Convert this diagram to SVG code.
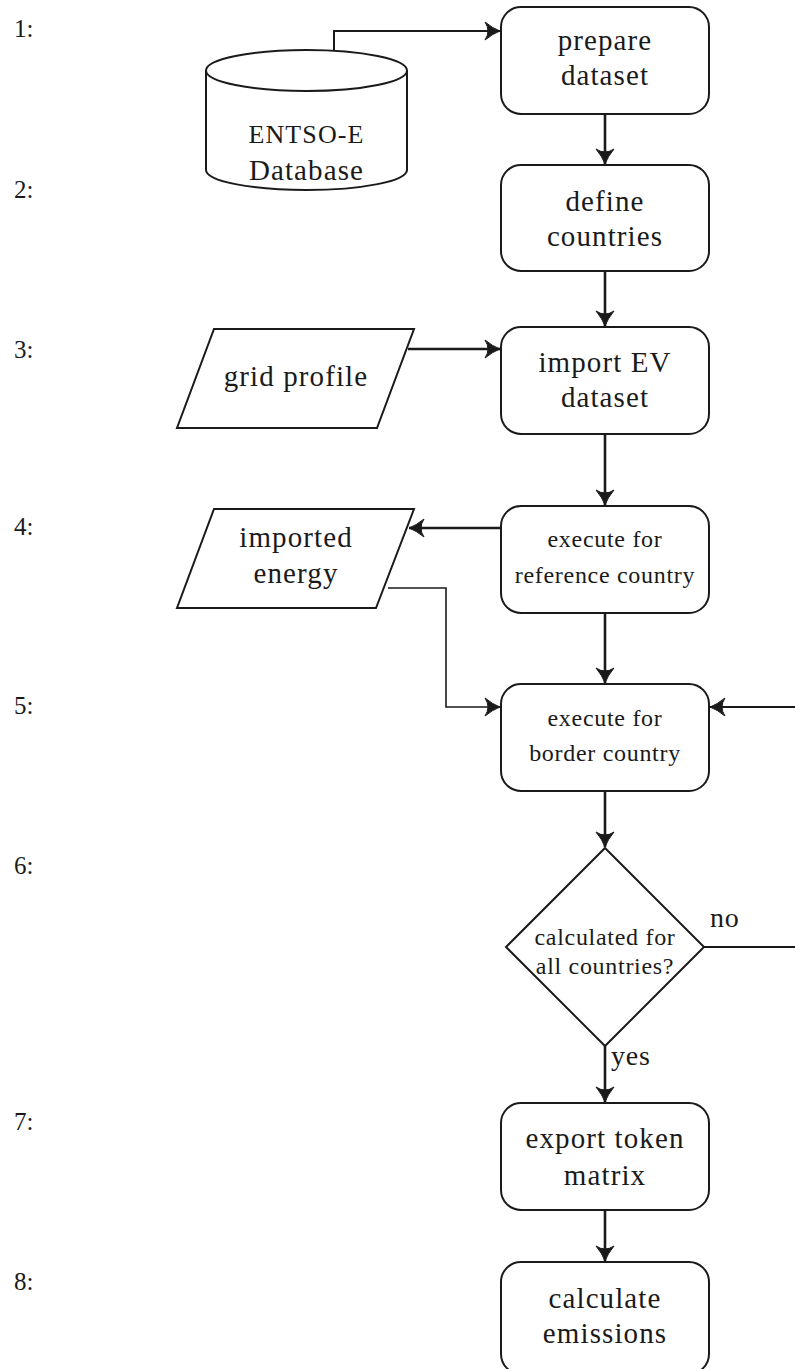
<svg xmlns="http://www.w3.org/2000/svg" width="795" height="1369" viewBox="0 0 795 1369">
<style>
.shape{fill:#fff;stroke:#1a1a1a;stroke-width:2}
.t{font-family:"Liberation Serif",serif;font-size:29px;letter-spacing:1.1px;fill:#1a1a1a;text-anchor:middle}
.s{font-family:"Liberation Serif",serif;font-size:24px;letter-spacing:0.7px;fill:#1a1a1a;text-anchor:middle}
.n{font-family:"Liberation Serif",serif;font-size:25px;fill:#1a1a1a}
.l{font-family:"Liberation Serif",serif;font-size:28px;letter-spacing:0.8px;fill:#1a1a1a}
.c{fill:none;stroke:#1a1a1a;stroke-width:2.6}
.c2{fill:none;stroke:#1a1a1a;stroke-width:1.6}
</style>
<defs>
<marker id="ah" markerUnits="userSpaceOnUse" markerWidth="22" markerHeight="22" viewBox="-17 -11 18 22" refX="0" refY="0" orient="auto">
<path d="M0,0 Q-7,-2.5 -15,-9 Q-9,0 -15,9 Q-7,2.5 0,0 Z" fill="#1a1a1a" stroke="#1a1a1a" stroke-width="1" stroke-linejoin="round"/>
</marker>
</defs>
<g id="row-numbers">
<text class="n" x="14" y="37">1:</text>
<text class="n" x="14" y="198">2:</text>
<text class="n" x="14" y="358">3:</text>
<text class="n" x="14" y="535">4:</text>
<text class="n" x="14" y="714">5:</text>
<text class="n" x="14" y="874">6:</text>
<text class="n" x="14" y="1130">7:</text>
<text class="n" x="14" y="1290">8:</text>
</g>
<g id="connectors">
<path class="c2" d="M334,50 V31 H500" marker-end="url(#ah)" style="stroke-width:2"/>
<path class="c" d="M605,114 V164" marker-end="url(#ah)"/>
<path class="c" d="M605,271 V326" marker-end="url(#ah)"/>
<path class="c" d="M408,349 H500" marker-end="url(#ah)"/>
<path class="c" d="M605,434 V505" marker-end="url(#ah)"/>
<path class="c" d="M501,528 H409" marker-end="url(#ah)"/>
<path class="c2" d="M388,588 H446 V707 H500" marker-end="url(#ah)"/>
<path class="c" d="M605,613 V683" marker-end="url(#ah)"/>
<path class="c" d="M605,791 V847" marker-end="url(#ah)"/>
<path class="c2" d="M704,947 H797 V707 H710" marker-end="url(#ah)" style="stroke-width:1.8"/>
<path class="c" d="M605,1046 V1102" marker-end="url(#ah)"/>
<path class="c" d="M605,1210 V1261" marker-end="url(#ah)"/>
<text class="l" x="710" y="927">no</text>
<text class="l" x="611" y="1065">yes</text>
</g>
<g id="entsoe">
<path class="shape" d="M206,70.5 V170 A100.5,20 0 0 0 407,170 V70.5"/>
<ellipse class="shape" cx="306.5" cy="70.5" rx="100.5" ry="20.5"/>
<text class="t" x="306.5" y="143" style="font-size:26px">ENTSO-E</text>
<text class="t" x="306.5" y="180">Database</text>
</g>
<g id="prepare">
<rect class="shape" x="501" y="7" width="208" height="107" rx="20"/>
<text class="t" x="605" y="50">prepare</text>
<text class="t" x="605" y="85">dataset</text>
</g>
<g id="define">
<rect class="shape" x="501" y="165" width="208" height="106" rx="20"/>
<text class="t" x="605" y="211">define</text>
<text class="t" x="605" y="246">countries</text>
</g>
<g id="grid">
<polygon class="shape" points="214,329 414,329 377,428 177,428"/>
<text class="t" x="296" y="386">grid profile</text>
</g>
<g id="import">
<rect class="shape" x="501" y="327" width="208" height="107" rx="20"/>
<text class="t" x="605" y="372">import EV</text>
<text class="t" x="605" y="407">dataset</text>
</g>
<g id="energy">
<polygon class="shape" points="214,509 414,509 376,608 177,608"/>
<text class="t" x="296" y="547">imported</text>
<text class="t" x="296" y="583">energy</text>
</g>
<g id="refcountry">
<rect class="shape" x="501" y="506" width="208" height="107" rx="20"/>
<text class="s" x="605" y="547">execute for</text>
<text class="s" x="605" y="583">reference country</text>
</g>
<g id="border">
<rect class="shape" x="501" y="684" width="208" height="107" rx="20"/>
<text class="s" x="605" y="726">execute for</text>
<text class="s" x="605" y="761">border country</text>
</g>
<g id="decision">
<polygon class="shape" points="605,848 704,947 605,1046 506,947"/>
<text class="s" x="605" y="945">calculated for</text>
<text class="s" x="605" y="974">all countries?</text>
</g>
<g id="export">
<rect class="shape" x="501" y="1103" width="208" height="107" rx="20"/>
<text class="t" x="605" y="1148">export token</text>
<text class="t" x="605" y="1185">matrix</text>
</g>
<g id="emissions">
<rect class="shape" x="501" y="1262" width="208" height="112" rx="20"/>
<text class="t" x="605" y="1308">calculate</text>
<text class="t" x="605" y="1343">emissions</text>
</g>
</svg>
